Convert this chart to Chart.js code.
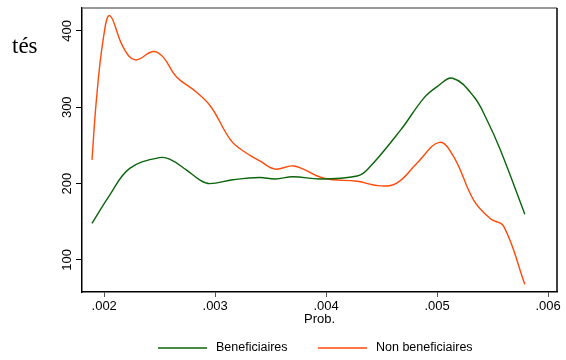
<!DOCTYPE html>
<html>
<head>
<meta charset="utf-8">
<script src="https://cdn.jsdelivr.net/npm/chart.js@4"></script>
<style>
  body { margin: 0; background: #fff; }
  #wrap { width: 566px; height: 360px; position: relative; }
</style>
</head>
<body>
<div id="wrap"><canvas id="densityChart"></canvas></div>
<script>
// Kernel density curves of predicted probability, by group
const probNon = [0.00189, 0.00193, 0.00199, 0.00205, 0.00217, 0.00228, 0.00244, 0.00253, 0.00265, 0.00283,
  0.00296, 0.00314, 0.00326, 0.00341, 0.00354, 0.00371, 0.00398, 0.00428, 0.00449, 0.00464,
  0.00482, 0.00502, 0.00515, 0.00533, 0.00548, 0.00560, 0.00579];
const densityNon = [231, 310, 388, 420, 379, 362, 373, 366, 340, 320,
  301, 257, 242, 229, 219, 223, 207, 203, 197, 201,
  227, 254, 235, 178, 154, 144, 68];

const probBen = [0.00189, 0.00205, 0.00223, 0.00250, 0.00259, 0.00274, 0.00286, 0.00295, 0.00316, 0.00340,
  0.00354, 0.00370, 0.00395, 0.00428, 0.00437, 0.00467, 0.00488, 0.00500, 0.00514, 0.00533,
  0.00545, 0.00557, 0.00579];
const densityBen = [148, 185, 220, 234, 232, 218, 205, 200, 205, 208,
  206, 209, 206, 210, 218, 270, 312, 327, 338, 314,
  283, 244, 160];

const xTickVals = [0.002, 0.003, 0.004, 0.005, 0.006];
const yTickVals = [100, 200, 300, 400];
const seriesLabels = ['Beneficiaires', 'Non beneficiaires'];
const seriesColors = ['#0a640a', '#ff4a0a'];

const toPoints = (xs, ys) => xs.map((x, i) => ({ x: x, y: ys[i] }));
const fmtProb = v => v.toFixed(3).replace(/^0/, '');

// Rotated y labels, top frame line, legend and the clipped title fragment
const decorations = {
  id: 'decorations',
  afterDraw(chart) {
    const ctx = chart.ctx;
    const area = chart.chartArea;
    const yScale = chart.scales.y;
    ctx.save();

    ctx.fillStyle = '#000';
    ctx.font = '13px "Liberation Sans", Arial, sans-serif';
    ctx.textAlign = 'center';
    ctx.textBaseline = 'middle';
    yScale.ticks.forEach(t => {
      const py = yScale.getPixelForValue(t.value);
      ctx.save();
      ctx.translate(67, py);
      ctx.rotate(-Math.PI / 2);
      ctx.fillText(String(t.value), 0, 0);
      ctx.restore();
    });

    ctx.strokeStyle = '#777';
    ctx.lineWidth = 1.5;
    ctx.beginPath();
    ctx.moveTo(area.left, area.top);
    ctx.lineTo(area.right, area.top);
    ctx.stroke();
    ctx.strokeStyle = '#000';
    ctx.beginPath();
    ctx.moveTo(area.right, area.top);
    ctx.lineTo(area.right, area.bottom);
    ctx.stroke();

    // legend
    const legendY = 348;
    const legendX = [158, 318];
    ctx.font = '12.5px "Liberation Sans", Arial, sans-serif';
    ctx.textAlign = 'left';
    chart.data.datasets.forEach((ds, i) => {
      ctx.strokeStyle = ds.borderColor;
      ctx.lineWidth = 1.3;
      ctx.beginPath();
      ctx.moveTo(legendX[i], legendY);
      ctx.lineTo(legendX[i] + 49, legendY);
      ctx.stroke();
      ctx.fillStyle = '#000';
      ctx.fillText(ds.label, legendX[i] + 58, legendY);
    });

    ctx.font = '23px "Liberation Serif", "DejaVu Serif", serif';
    ctx.textBaseline = 'alphabetic';
    ctx.fillText('tés', 12, 53);
    ctx.restore();
  }
};

new Chart(document.getElementById('densityChart'), {
  type: 'line',
  data: {
    datasets: [
      {
        label: seriesLabels[0],
        data: toPoints(probBen, densityBen),
        borderColor: seriesColors[0],
        borderWidth: 1.4,
        pointRadius: 0,
        tension: 0.4,
        fill: false
      },
      {
        label: seriesLabels[1],
        data: toPoints(probNon, densityNon),
        borderColor: seriesColors[1],
        borderWidth: 1.4,
        pointRadius: 0,
        tension: 0.4,
        fill: false
      }
    ]
  },
  options: {
    responsive: true,
    maintainAspectRatio: false,
    animation: false,
    layout: { padding: { left: 0, top: 8, right: 9, bottom: 28 } },
    plugins: {
      legend: { display: false },
      tooltip: { enabled: false }
    },
    scales: {
      x: {
        type: 'linear',
        min: 0.0018,
        max: 0.00608,
        afterBuildTicks: axis => { axis.ticks = xTickVals.map(v => ({ value: v })); },
        afterFit: axis => { axis.height = 40; },
        border: { display: true, color: '#000', width: 1.5 },
        grid: { drawOnChartArea: false, drawTicks: true, tickLength: 5, color: '#555' },
        ticks: {
          color: '#000',
          padding: 2,
          maxRotation: 0,
          font: { family: '"Liberation Sans", Arial, sans-serif', size: 13 },
          callback: v => fmtProb(v)
        },
        title: {
          display: true,
          text: 'Prob.',
          color: '#000',
          padding: { top: 0, bottom: 5 },
          font: { family: '"Liberation Sans", Arial, sans-serif', size: 13 }
        }
      },
      y: {
        min: 58,
        max: 430,
        afterBuildTicks: axis => { axis.ticks = yTickVals.map(v => ({ value: v })); },
        afterFit: axis => { axis.width = 82; },
        border: { display: true, color: '#000', width: 1.5 },
        grid: { drawOnChartArea: false, drawTicks: true, tickLength: 6, color: '#000' },
        ticks: { display: false }
      }
    }
  },
  plugins: [decorations]
});
</script>
</body>
</html>
